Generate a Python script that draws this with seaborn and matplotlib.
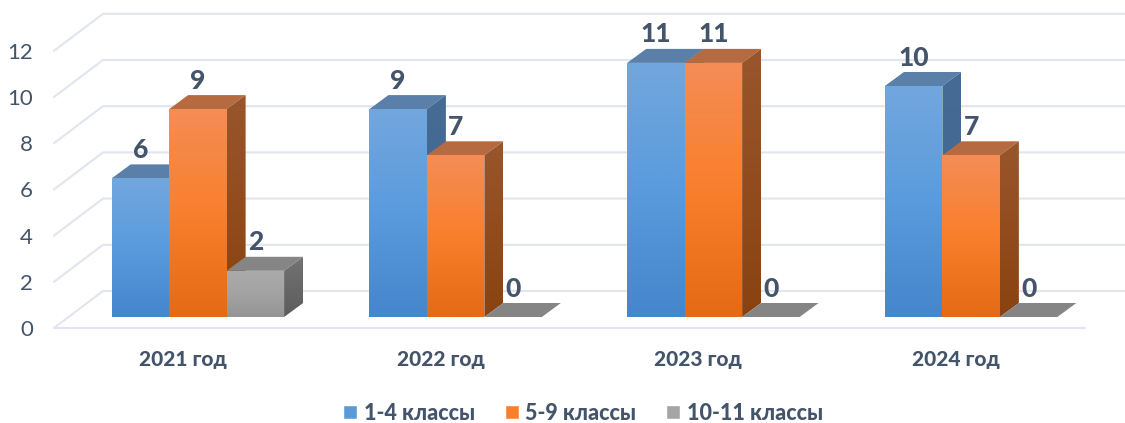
import matplotlib
matplotlib.use("Agg")
import matplotlib.pyplot as plt
import numpy as np
import pandas as pd
import seaborn as sns
from matplotlib.colors import LinearSegmentedColormap
from matplotlib.patches import Polygon
from matplotlib.transforms import Affine2D

years = ["2021 год", "2022 год", "2023 год", "2024 год"]
grades = ["1-4 классы", "5-9 классы", "10-11 классы"]
values_1_4 = [6, 9, 11, 10]
values_5_9 = [9, 7, 11, 7]
values_10_11 = [2, 0, 0, 0]
y_ticks = [0, 2, 4, 6, 8, 10, 12]

TEXT = "#44546a"
GRID = "#e1e5ed"
flat_colors = ["#5b9bd5", "#f97f2d", "#a5a5a5"]
front_colors = [["#72a7dd", "#5a9bdd", "#4586cc"],
                ["#f48d56", "#f97f2c", "#e46a15"],
                ["#ababab", "#a3a3a3", "#959595"]]
side_colors = [["#466b93", "#3f6a99"],
               ["#99562c", "#8a4210"],
               ["#737373", "#5c5c5c"]]
top_colors = ["#5a7fa8", "#b56a40", "#858585"]

# scale of the picture: px per category and per value
PX_X = 257.75
PX_Y = 23.1
DEPTH_X = 19 / PX_X
DEPTH_Y = 14 / PX_Y


def gradient(ax, pts, colors, z):
    pts = np.array(pts)
    poly = Polygon(pts, closed=True, fc="none", ec="none", zorder=z, clip_on=False)
    ax.add_patch(poly)
    cmap = LinearSegmentedColormap.from_list("g", colors)
    extent = (pts[:, 0].min(), pts[:, 0].max(), pts[:, 1].min(), pts[:, 1].max())
    im = ax.imshow(np.linspace(0, 1, 128).reshape(-1, 1), cmap=cmap, aspect="auto",
                   origin="upper", extent=extent, zorder=z, interpolation="bilinear")
    im.set_clip_path(poly)


if __name__ == "__main__":
    sns.set_style("white")
    plt.rcParams["font.family"] = ["Lato", "Noto Sans", "DejaVu Sans"]

    df = pd.DataFrame({
        "Год": years * 3,
        "Классы": np.repeat(grades, 4),
        "Число": values_1_4 + values_5_9 + values_10_11,
    })

    fig = plt.figure(figsize=(11.25, 4.23), dpi=100)
    ax = fig.add_axes([69 / 1125, (423 - 317) / 423, 1031 / 1125, 277.2 / 423])

    sns.barplot(data=df, x="Год", y="Число", hue="Классы", hue_order=grades, palette=flat_colors,
                width=0.669, gap=0, saturation=1, errorbar=None, ax=ax, zorder=2)

    # back wall and left side of the floor
    left_front = -0.5 - 15 / PX_X
    left_back = -0.5 + 34 / PX_X
    right_back = 3.5 + 33 / PX_X
    right_front = 3.5 - 15 / PX_X
    for v in y_ticks:
        y_back = v + 26 / PX_Y
        y_front = v - 11 / PX_Y
        ax.plot([left_front, left_back, right_back], [y_front, y_back, y_back],
                color=GRID, lw=1.5, zorder=1, clip_on=False)
    ax.plot([left_front, right_front], [-11 / PX_Y, -11 / PX_Y], color=GRID, lw=1.5, zorder=1, clip_on=False)

    # 3d faces, painted left to right
    for s, container in enumerate(ax.containers):
        for bar in container:
            x0 = bar.get_x()
            x1 = x0 + bar.get_width()
            h = bar.get_height()
            z = 3 + s * 3
            top = Polygon([(x0, h), (x1, h), (x1 + DEPTH_X, h + DEPTH_Y), (x0 + DEPTH_X, h + DEPTH_Y)],
                          closed=True, fc=top_colors[s], ec="none", zorder=z, clip_on=False)
            ax.add_patch(top)
            if h > 0:
                gradient(ax, [(x1, 0), (x1 + DEPTH_X, DEPTH_Y), (x1 + DEPTH_X, h + DEPTH_Y), (x1, h)],
                         side_colors[s], z)
                gradient(ax, [(x0, 0), (x1, 0), (x1, h), (x0, h)], front_colors[s], z + 1)
            ax.text(x0 + bar.get_width() / 2, h + 28.5 / PX_Y, f"{h:.0f}", ha="center", va="center",
                    fontsize=19, fontweight=900, color=TEXT, zorder=20)

    ax.set_xlim(-0.5, 3.5)
    ax.set_ylim(0, 12)
    ax.set_yticks(y_ticks)
    ax.set_xlabel("")
    ax.set_ylabel("")
    sns.despine(ax=ax, left=True, bottom=True)
    ax.patch.set_alpha(0)
    ax.tick_params(axis="y", length=0, pad=26, labelsize=16, labelcolor=TEXT)
    ax.tick_params(axis="x", length=0, pad=24, labelsize=15, labelcolor=TEXT)
    for label in ax.get_yticklabels():
        label.set_transform(label.get_transform() + Affine2D().translate(0, -11))
    for label in ax.get_xticklabels():
        label.set_fontweight(900)
        label.set_transform(label.get_transform() + Affine2D().translate(-15, 0))

    sns.move_legend(ax, "center", bbox_to_anchor=(583 / 1125, 1 - 413 / 423), bbox_transform=fig.transFigure,
                    ncol=3, frameon=False, title=None, fontsize=15.5, handlelength=0.65, handleheight=0.65,
                    handletextpad=0.3, columnspacing=1.4, borderpad=0, borderaxespad=0,
                    prop={"size": 15.5, "weight": 900})
    legend = ax.get_legend()
    legend.set_zorder(30)
    for text in legend.get_texts():
        text.set_color(TEXT)

    fig.savefig("out.png", dpi=100)
